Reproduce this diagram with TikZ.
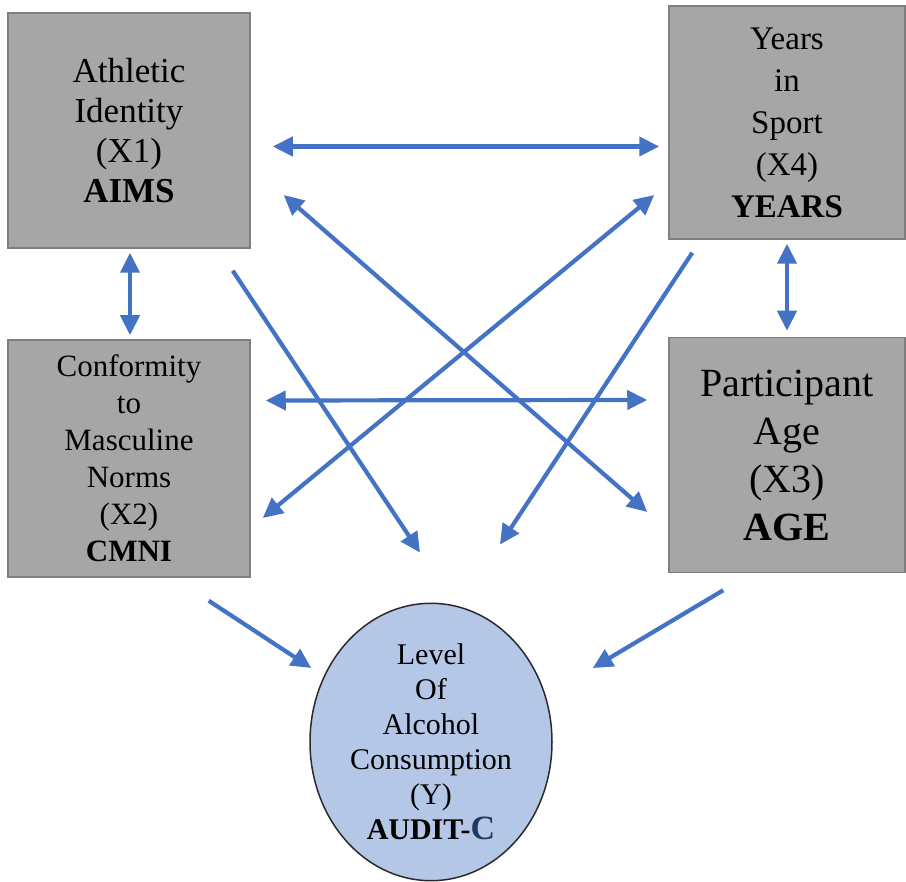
\documentclass[tikz,border=0pt]{standalone}
\usepackage{fontspec}
\setmainfont{Liberation Serif}
\usepackage{xcolor}
\usetikzlibrary{positioning,calc,arrows.meta,shapes.geometric}
\definecolor{pathBlue}{HTML}{4472C4}
\definecolor{predGreyBg}{HTML}{A6A6A6}
\definecolor{predGreyLine}{HTML}{7F7F7F}
\definecolor{outcomeBg}{HTML}{B4C7E7}
\definecolor{outcomeLine}{HTML}{2B2B2B}
\definecolor{outcomeNavy}{HTML}{1F3864}
\tikzset{
  path arrow/.style={
    -{Triangle[length=20pt,width=19pt]},
    line width=4.2pt, color=pathBlue,
  },
  corr arrow/.style={
    path arrow,
    {Triangle[length=20pt,width=19pt]}-{Triangle[length=20pt,width=19pt]},
  },
  pred box/.style={
    rectangle, fill=predGreyBg, draw=predGreyLine,
    line width=1.5pt, inner sep=0pt, align=center,
  },
  outcome oval/.style={
    ellipse, fill=outcomeBg, draw=outcomeLine,
    line width=1.5pt, inner sep=0pt, align=center,
    minimum width=242pt, minimum height=268pt,
  },
}

\begin{document}
\begin{tikzpicture}[x=1pt,y=-1pt]

\useasboundingbox (0,0) rectangle (906,882);

% --- PREDICTORS ---
\node[pred box, minimum width=242pt, minimum height=235pt,
  font=\fontsize{35}{40}\selectfont]
  (aims) at (129,130.5) {Athletic\\Identity\\(X1)\\\textbf{AIMS}};
\node[pred box, minimum width=236pt, minimum height=233pt,
  font=\fontsize{33}{42}\selectfont]
  (years) at (787,122.5) {Years\\in\\Sport\\(X4)\\\textbf{YEARS}};
\node[pred box, minimum width=242pt, minimum height=237pt,
  font=\fontsize{31}{37}\selectfont]
  (cmni) at (129,458.5) {Conformity\\to\\Masculine\\Norms\\(X2)\\\textbf{CMNI}};
\node[pred box, minimum width=236pt, minimum height=235pt,
  font=\fontsize{40}{48}\selectfont]
  (age) at (787,455) {Participant\\Age\\(X3)\\\textbf{AGE}};

% --- OUTCOME ---
\node[outcome oval, font=\fontsize{30}{35}\selectfont]
  (audit) at (431,742)
  {Level\\Of\\Alcohol\\Consumption\\(Y)\\\textbf{AUDIT-{\fontsize{34}{35}\selectfont\color{outcomeNavy}C}}};

% --- ARROW END POINTS ---
\coordinate (c1a) at ($(aims.east)+(22,16)$);
\coordinate (c1b) at ($(years.west)+(-9,24)$);
\coordinate (c2a) at ($(aims.south)+(1,4)$);
\coordinate (c2b) at ($(cmni.north)+(1,-4)$);
\coordinate (c3a) at ($(years.south)+(0,4)$);
\coordinate (c3b) at ($(age.north)+(0,-6)$);
\coordinate (c4a) at ($(cmni.east)+(15,-58)$);
\coordinate (c4b) at ($(age.west)+(-21,-55)$);
\coordinate (c5a) at ($(cmni.east)+(12,59.5)$);
\coordinate (c5b) at ($(years.west)+(-14,72.5)$);
\coordinate (c6a) at ($(aims.east)+(33,64.5)$);
\coordinate (c6b) at ($(age.west)+(-21,57)$);

\coordinate (p1a) at ($(aims.south east)+(-18,22)$);
\coordinate (p1b) at ($(audit.north)+(-11,-50)$);
\coordinate (p2a) at ($(years.south west)+(24,13)$);
\coordinate (p2b) at ($(audit.north)+(69,-58)$);
\coordinate (p3a) at ($(cmni.south east)+(-42,23)$);
\coordinate (p3b) at ($(audit.west)+(2,-74)$);
\coordinate (p4a) at ($(age.south west)+(55,17)$);
\coordinate (p4b) at ($(audit.east)+(40,-74)$);

% --- CORRELATIONS ---
\foreach \k in {1,...,6} {
  \draw[corr arrow] (c\k a) -- (c\k b);
}

% --- PATHS TO OUTCOME ---
\foreach \k in {1,...,4} {
  \draw[path arrow] (p\k a) -- (p\k b);
}

\end{tikzpicture}
\end{document}
